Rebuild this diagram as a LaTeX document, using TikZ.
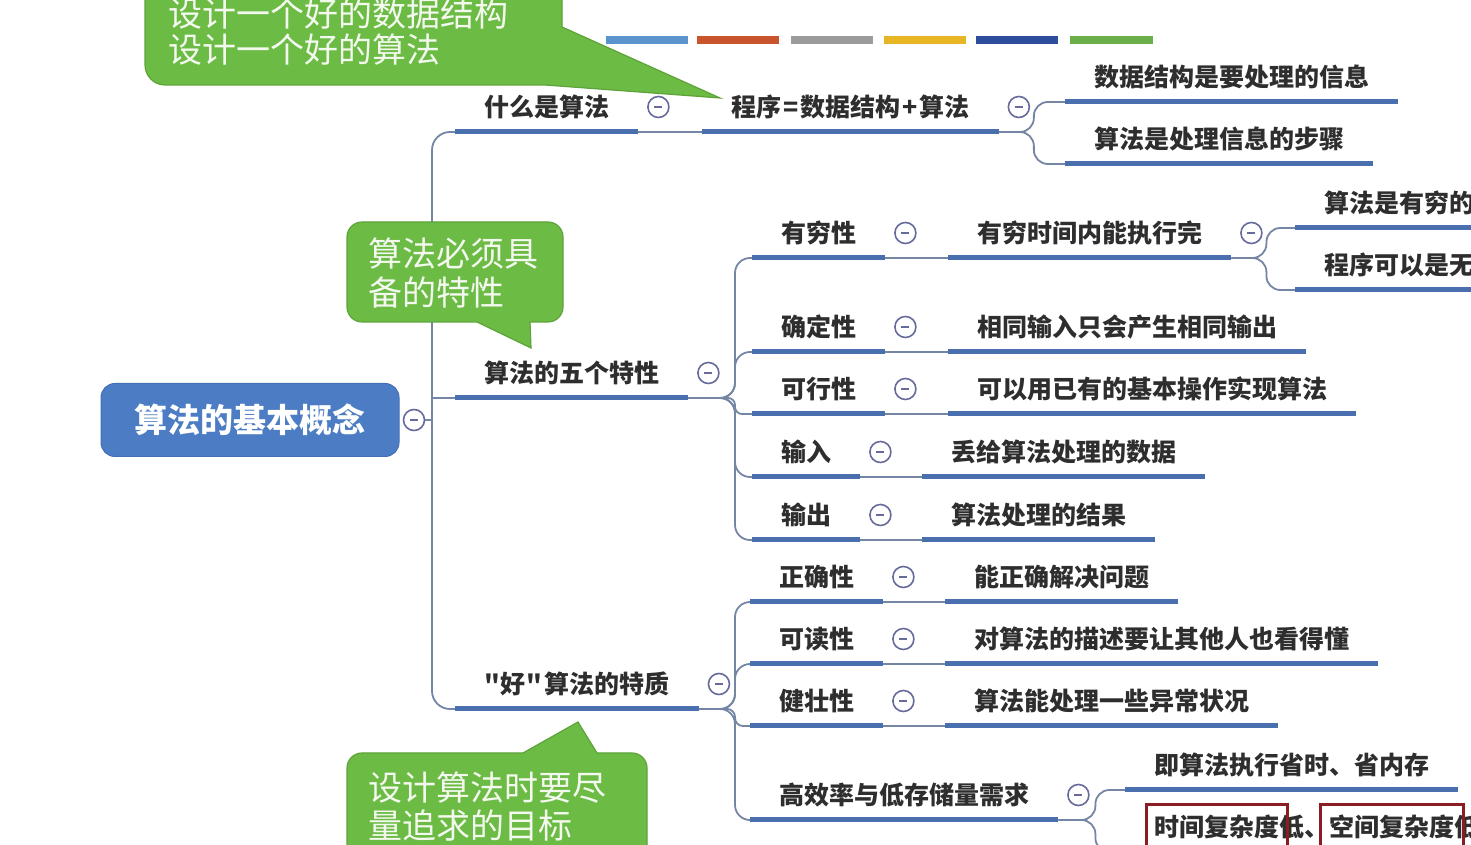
\documentclass[tikz,border=0pt]{standalone}
\usepackage{fontspec}
\setmainfont{Noto Sans CJK SC}[Ligatures=TeXOff]
\definecolor{ulc}{HTML}{4A6FAF}
\definecolor{cnc}{HTML}{7486A3}
\definecolor{btc}{HTML}{676B9C}
\definecolor{txt}{HTML}{2E2E2E}
\definecolor{cg}{HTML}{6CBB44}
\definecolor{cgd}{HTML}{5EA33A}
\definecolor{ctx}{HTML}{F3F9EE}
\definecolor{rootc}{HTML}{4C7DC4}
\definecolor{rootd}{HTML}{4270B5}
\definecolor{rb}{HTML}{8A1C24}
\definecolor{bA}{HTML}{5B93CC}
\definecolor{bB}{HTML}{C8552E}
\definecolor{bC}{HTML}{9B9B9B}
\definecolor{bD}{HTML}{E6B624}
\definecolor{bE}{HTML}{2E4E9C}
\definecolor{bF}{HTML}{6AAF4A}
\tikzset{
 tpc/.style={anchor=south west, inner xsep=29pt, inner ysep=12.5pt, text height=22pt, text depth=3pt, font=\fontsize{25}{30}\selectfont\bfseries, text=txt},
 uline/.style={draw=ulc, line width=5pt},
 conn/.style={draw=cnc, line width=1.8pt},
 cbtn/.style={circle, draw=btc, line width=1.6pt, fill=white, minimum size=21pt, inner sep=0pt,
   path picture={\draw[btc,line width=1.6pt] ([xshift=-4pt]path picture bounding box.center) -- ([xshift=4pt]path picture bounding box.center);}},
 callout/.style={fill=cg, draw=cgd, line width=1.2pt},
 ctext/.style={anchor=west, inner sep=0pt, text height=30pt, text depth=4pt, font=\fontsize{34}{40}\selectfont, text=ctx},
 cbar/.style={line width=8pt},
 redbox/.style={draw=rb, line width=3pt},
 rootbox/.style={rounded corners=14pt, fill=rootc, draw=rootd, line width=1pt, minimum width=298pt, minimum height=73pt, text=white, font=\fontsize{33}{40}\selectfont\bfseries, inner sep=0pt}
}
\begin{document}
\begin{tikzpicture}[x=1pt,y=1pt]
\useasboundingbox (0,0) rectangle (1471,845);
\fill[white] (0,0) rectangle (1471,845);
\clip (0,0) rectangle (1471,845);

% colour bars
\draw[cbar,bA] (606,805) -- (688,805);
\draw[cbar,bB] (697,805) -- (779,805);
\draw[cbar,bC] (791,805) -- (873,805);
\draw[cbar,bD] (884,805) -- (966,805);
\draw[cbar,bE] (976,805) -- (1058,805);
\draw[cbar,bF] (1070,805) -- (1153,805);

% root
\node[rootbox] (R) at (250,425) {算法的基本概念};
\node[cbtn] (Rb) at (414,425) {};
\coordinate (T) at (432,425);
\coordinate (Bf) at (735,447);
\coordinate (Cf) at (735,136);

% topics
\node[tpc] (A1) at (455,713) {什么是算法};
\node[tpc] (A2) at (702,713) {程序\kern2pt=\kern2pt数据结构\kern2pt+\kern2pt算法};
\node[tpc] (A3) at (1065,743) {数据结构是要处理的信息};
\node[tpc] (A4) at (1065,681) {算法是处理信息的步骤};
\node[tpc] (B) at (455,447) {算法的五个特性};
\node[tpc] (B1) at (752,587) {有穷性};
\node[tpc] (B1a) at (948,587) {有穷时间内能执行完};
\node[tpc] (B1x) at (1295,617) {算法是有穷的};
\node[tpc] (B1y) at (1295,555) {程序可以是无穷的};
\node[tpc] (B2) at (752,493) {确定性};
\node[tpc] (B2a) at (948,493) {相同输入只会产生相同输出};
\node[tpc] (B3) at (752,431) {可行性};
\node[tpc] (B3a) at (948,431) {可以用已有的基本操作实现算法};
\node[tpc] (B4) at (752,368) {输入};
\node[tpc] (B4a) at (922,368) {丢给算法处理的数据};
\node[tpc] (B5) at (752,305) {输出};
\node[tpc] (B5a) at (922,305) {算法处理的结果};
\node[tpc] (C) at (455,136) {"\kern1pt好\kern1pt"\kern2pt算法的特质};
\node[tpc] (C1) at (750,243) {正确性};
\node[tpc] (C1a) at (945,243) {能正确解决问题};
\node[tpc] (C2) at (750,181) {可读性};
\node[tpc] (C2a) at (945,181) {对算法的描述要让其他人也看得懂};
\node[tpc] (C3) at (750,119) {健壮性};
\node[tpc] (C3a) at (945,119) {算法能处理一些异常状况};
\node[tpc] (C4) at (750,25) {高效率与低存储量需求};
\node[tpc] (C4a) at (1125,55) {即算法执行省时、省内存};
\node[tpc] (C4b) at (1125,-7) {时间复杂度低、空间复杂度低};

% connectors
\draw[conn] (Rb.east) -- (T);
\draw[conn,rounded corners=18pt] (A1.south west) -| (T);
\draw[conn,rounded corners=18pt] (C.south west) -| (T);
\draw[conn] (T) |- (B.south west);

\draw[conn] (A1.south east) -- (A2.south west);
\draw[conn,rounded corners=14pt] (A2.south east) -- ++(35pt,0) |- (A3.south west);
\draw[conn,rounded corners=14pt] (A2.south east) -- ++(35pt,0) |- (A4.south west);

\foreach \k/\r in {B1/15,B2/15,B3/7,B4/15,B5/15}
  \draw[conn,rounded corners=\r pt] (B.south east) -- (Bf) |- (\k.south west);
\foreach \a/\b in {B1/B1a,B2/B2a,B3/B3a,B4/B4a,B5/B5a,C1/C1a,C2/C2a,C3/C3a}
  \draw[conn] (\a.south east) -- (\b.south west);
\draw[conn,rounded corners=14pt] (B1a.south east) -- ++(35pt,0) |- (B1x.south west);
\draw[conn,rounded corners=14pt] (B1a.south east) -- ++(35pt,0) |- (B1y.south west);

\foreach \k/\r in {C1/15,C2/15,C3/8,C4/15}
  \draw[conn,rounded corners=\r pt] (C.south east) -- (Cf) |- (\k.south west);
\draw[conn,rounded corners=14pt] (C4.south east) -- ++(37pt,0) |- (C4a.south west);
\draw[conn,rounded corners=14pt] (C4.south east) -- ++(37pt,0) |- (C4b.south west);

% underlines
\foreach \n in {A1,A2,A3,A4,B,B1,B1a,B1x,B1y,B2,B2a,B3,B3a,B4,B4a,B5,B5a,C,C1,C1a,C2,C2a,C3,C3a,C4,C4a,C4b}
  \draw[uline] (\n.south west) -- (\n.south east);

% collapse buttons
\foreach \n in {A1,A2,B,B1,B1a,B2,B3,B4,B5,C,C1,C2,C3,C4}
  \node[cbtn,xshift=20pt,yshift=25pt] (\n-btn) at (\n.south east) {};

% red boxes
\draw[redbox] (1146,-5) rectangle (1287,40);
\draw[redbox] (1320,-5) rectangle (1463,40);

% callouts
\path[callout] (145,870) [rounded corners=20pt] -- (562,870) [sharp corners] -- (562,818) -- (720,747) -- (545,760) [rounded corners=20pt] -- (145,760) -- cycle;
\node[ctext] (k1) at (168,831) {设计一个好的数据结构};
\node[ctext] (k2) at (168,795) {设计一个好的算法};

\path[callout] (347,573) [rounded corners=15pt] -- (347,623) -- (563,623) -- (563,523) [sharp corners] -- (530,523) -- (531,497) -- (477,523) [rounded corners=15pt] -- (347,523) -- cycle;
\node[ctext] (k3) at (368,591) {算法必须具};
\node[ctext] (k4) at (368,552) {备的特性};

\path[callout] (347,-30) [rounded corners=15pt] -- (347,92) [sharp corners] -- (523,92) -- (578,123) -- (597,92) [rounded corners=15pt] -- (647,92) -- (647,-30) -- cycle;
\node[ctext] (k5) at (368,57) {设计算法时要尽};
\node[ctext] (k6) at (368,19) {量追求的目标};
\end{tikzpicture}
\end{document}
